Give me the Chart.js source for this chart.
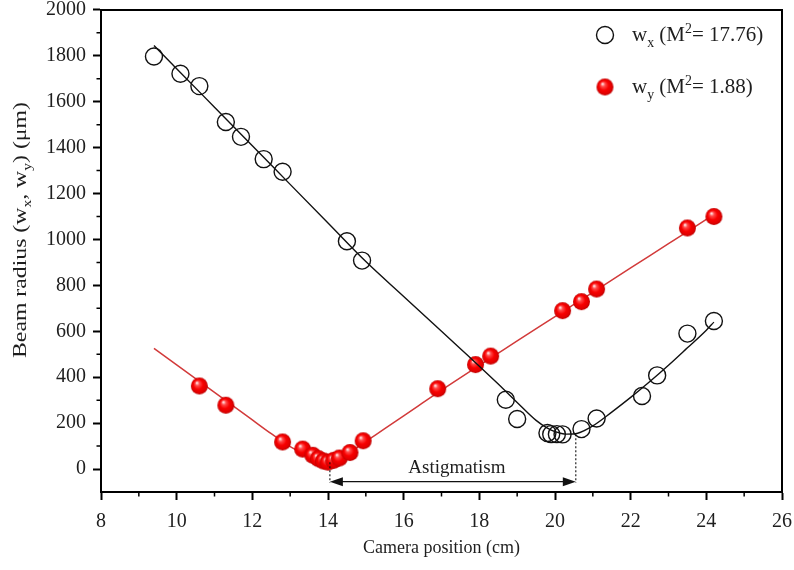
<!DOCTYPE html>
<html><head><meta charset="utf-8">
<script src="https://cdn.jsdelivr.net/npm/chart.js@4/dist/chart.umd.min.js"></script>
<style>html,body{margin:0;padding:0;background:#fff}canvas{display:block}</style>
</head><body>
<canvas id="c" width="794" height="570"></canvas>
<script>
// ---- data ----
const wxPosition = [9.4,10.1,10.6,11.3,11.7,12.3,12.8,14.5,14.9,18.7,19.0,19.8,19.9,20.05,20.2,20.7,21.1,22.3,22.7,23.5,24.2];
const wxRadius   = [1797,1722,1668,1512,1447,1350,1295,992,908,302,218,157,152,152,151,174,220,318,408,590,645];
const wyPosition = [10.6,11.3,12.8,13.33,13.6,13.75,13.88,14.0,14.15,14.3,14.58,14.93,16.9,17.9,18.3,20.2,20.7,21.1,23.5,24.2];
const wyRadius   = [362,278,118,87,60,45,35,30,38,48,72,123,350,455,492,690,729,784,1050,1100];
const wxFitPosition = [9.4,10,11,12,13,14,15,16,17,17.5,18,18.5,19,19.5,19.8,20,20.3,20.6,21,21.5,22,22.5,23,23.5,24,24.2];
const wxFitRadius   = [1845,1744,1576,1408,1240,1072,904,752,600,524,448,370,290,212,178,163,152,156,188,248,312,380,452,528,605,640];
const wyFitPosition = [9.4,10,11,12,12.5,13,13.5,13.8,14,14.2,14.5,15,15.5,16,16.5,17,18,19,20,21,22,23,24,24.2];
const wyFitRadius   = [526,454,334,214,154,98,55,36,30,34,64,120,176,232,288,344,452,558,664,770,876,982,1088,1110];
const xTickLabels = ['8','10','12','14','16','18','20','22','24','26'];
const yTickLabels = ['0','200','400','600','800','1000','1200','1400','1600','1800','2000'];
const astigmatismStart = 14.05, astigmatismEnd = 20.55, astigmatismLevel = -55;
const astigmatismStartTop = 30, astigmatismEndTop = 152;
const legendWx = [{t:'w'},{t:'x',k:'sub'},{t:' (M'},{t:'2',k:'sup'},{t:'= 17.76)'}];
const legendWy = [{t:'w'},{t:'y',k:'sub'},{t:' (M'},{t:'2',k:'sup'},{t:'= 1.88)'}];
const yTitle = [{t:'Beam radius (w'},{t:'x',k:'sub'},{t:', w'},{t:'y',k:'sub'},{t:') (μm)'}];
const xTitle = 'Camera position (cm)';
const astigmatismText = 'Astigmatism';

const SERIF = '"Liberation Serif", "DejaVu Serif", serif';
const TXT = '#1e1e1e';
const zip = (a,b) => a.map((v,i)=>({x:v,y:b[i]}));

function makeBall(r){
  const s = Math.ceil(r*2+2);
  const c = document.createElement('canvas'); c.width = s; c.height = s;
  const g = c.getContext('2d'); const cx = s/2, cy = s/2;
  const gr = g.createRadialGradient(cx-r*0.3, cy-r*0.38, r*0.05, cx, cy, r);
  gr.addColorStop(0,'#ffe6e6'); gr.addColorStop(0.22,'#ff4a4a'); gr.addColorStop(0.55,'#f80000');
  gr.addColorStop(0.85,'#e00000'); gr.addColorStop(1,'#b80000');
  g.fillStyle = gr; g.beginPath(); g.arc(cx,cy,r,0,Math.PI*2); g.fill();
  return c;
}
const ball = makeBall(8.5);

function richWidth(ctx, parts, size){
  let w = 0;
  for(const p of parts){
    const fs = p.k ? size*0.66 : size;
    ctx.font = fs + 'px ' + SERIF; w += ctx.measureText(p.t).width;
  }
  return w;
}
function drawRich(ctx, parts, x, y, size){
  let cx = x;
  ctx.textAlign = 'left'; ctx.textBaseline = 'alphabetic'; ctx.fillStyle = TXT;
  for(const p of parts){
    const fs = p.k ? size*0.66 : size;
    const dy = p.k === 'sub' ? size*0.28 : (p.k === 'sup' ? -size*0.4 : 0);
    ctx.font = fs + 'px ' + SERIF;
    ctx.fillText(p.t, cx, y+dy);
    cx += ctx.measureText(p.t).width;
  }
}

const decor = {
  id:'decor',
  afterDatasetsDraw(chart){
    const {ctx, chartArea:a, scales:{x:xs, y:ys}} = chart;
    ctx.save();
    // frame top/right
    ctx.strokeStyle = '#000'; ctx.lineWidth = 2;
    ctx.beginPath(); ctx.moveTo(a.left, a.top); ctx.lineTo(a.right, a.top); ctx.lineTo(a.right, a.bottom); ctx.stroke();
    // minor ticks
    ctx.lineWidth = 1.5;
    ctx.beginPath();
    for(let v = 9; v < 26; v += 2){ const px = xs.getPixelForValue(v); ctx.moveTo(px, a.bottom); ctx.lineTo(px, a.bottom+4.5); }
    for(let v = 100; v < 2000; v += 200){ const py = ys.getPixelForValue(v); ctx.moveTo(a.left, py); ctx.lineTo(a.left-4.5, py); }
    ctx.stroke();
    // astigmatism arrow
    const x1 = xs.getPixelForValue(astigmatismStart), x2 = xs.getPixelForValue(astigmatismEnd);
    const ya = ys.getPixelForValue(astigmatismLevel);
    ctx.strokeStyle = '#111'; ctx.lineWidth = 1.1;
    ctx.setLineDash([2,2]);
    ctx.beginPath();
    ctx.moveTo(x1, ys.getPixelForValue(astigmatismStartTop)); ctx.lineTo(x1, ya+1);
    ctx.moveTo(x2, ys.getPixelForValue(astigmatismEndTop)); ctx.lineTo(x2, ya+1);
    ctx.stroke();
    ctx.setLineDash([]);
    ctx.lineWidth = 1.2;
    ctx.beginPath(); ctx.moveTo(x1+6, ya); ctx.lineTo(x2-6, ya); ctx.stroke();
    ctx.fillStyle = '#111';
    ctx.beginPath(); ctx.moveTo(x1, ya); ctx.lineTo(x1+13, ya-4.5); ctx.lineTo(x1+13, ya+4.5); ctx.closePath(); ctx.fill();
    ctx.beginPath(); ctx.moveTo(x2, ya); ctx.lineTo(x2-13, ya-4.5); ctx.lineTo(x2-13, ya+4.5); ctx.closePath(); ctx.fill();
    ctx.font = '19px ' + SERIF; ctx.textAlign = 'center'; ctx.textBaseline = 'alphabetic'; ctx.fillStyle = TXT;
    ctx.fillText(astigmatismText, (x1+x2)/2 + 4, ya-9);
    // legend
    ctx.strokeStyle = '#111'; ctx.lineWidth = 1.4;
    ctx.beginPath(); ctx.arc(605, 35, 8.5, 0, Math.PI*2); ctx.stroke();
    drawRich(ctx, legendWx, 632, 41, 21);
    ctx.drawImage(ball, 605-ball.width/2, 87-ball.height/2);
    drawRich(ctx, legendWy, 632, 93, 21);
    // y title
    ctx.save();
    ctx.translate(20, 230);
    ctx.rotate(-Math.PI/2);
    ctx.scale(1.25, 1);
    const w = richWidth(ctx, yTitle, 19);
    drawRich(ctx, yTitle, -w/2, 6, 19);
    ctx.restore();
    ctx.restore();
  }
};

new Chart(document.getElementById('c'), {
  type:'scatter',
  data:{datasets:[
    {label:'wy fit', data: zip(wyFitPosition, wyFitRadius), showLine:true, borderColor:'#d23a3a', borderWidth:1.5,
     pointRadius:0, cubicInterpolationMode:'monotone', order:4},
    {label:'wy', data: zip(wyPosition, wyRadius), pointStyle: ball, pointRadius:8.5, order:3},
    {label:'wx fit', data: zip(wxFitPosition, wxFitRadius), showLine:true, borderColor:'#111', borderWidth:1.4,
     pointRadius:0, cubicInterpolationMode:'monotone', order:2},
    {label:'wx', data: zip(wxPosition, wxRadius), pointStyle:'circle', pointRadius:8.5, borderColor:'#111',
     borderWidth:1.4, backgroundColor:'rgba(0,0,0,0)', order:1}
  ]},
  options:{
    responsive:false, animation:false, devicePixelRatio:1,
    layout:{padding:{top:9, right:12, left:0, bottom:0}},
    plugins:{legend:{display:false}, tooltip:{enabled:false}},
    scales:{
      x:{type:'linear', min:8, max:26,
        ticks:{stepSize:1, autoSkip:false, maxRotation:0, padding:10, color:TXT, font:{family:SERIF, size:20, lineHeight:1.2},
          callback:v => xTickLabels.includes(String(v)) ? String(v) : ''},
        grid:{drawOnChartArea:false, drawTicks:true, tickLength:8, tickWidth:2,
          tickColor: c => (c.tick && xTickLabels.includes(String(c.tick.value))) ? '#000' : 'rgba(0,0,0,0)'},
        border:{display:true, width:2, color:'#000'},
        title:{display:true, text:xTitle, color:TXT, font:{family:SERIF, size:18}, padding:{top:0, bottom:11}},
        afterFit: s => { s.height = 78; s.paddingLeft = 0; s.paddingRight = 0; }
      },
      y:{type:'linear', min:-100, max:2000,
        ticks:{stepSize:100, autoSkip:false, padding:7, color:TXT, font:{family:SERIF, size:20, lineHeight:1.2},
          callback:v => yTickLabels.includes(String(v)) ? String(v) : ''},
        grid:{drawOnChartArea:false, drawTicks:true, tickLength:8, tickWidth:2,
          tickColor: c => (c.tick && yTickLabels.includes(String(c.tick.value))) ? '#000' : 'rgba(0,0,0,0)'},
        border:{display:true, width:2, color:'#000'},
        afterFit: s => { s.width = 101; s.paddingTop = 0; s.paddingBottom = 0; }
      }
    }
  },
  plugins:[decor]
});
</script>
</body></html>
